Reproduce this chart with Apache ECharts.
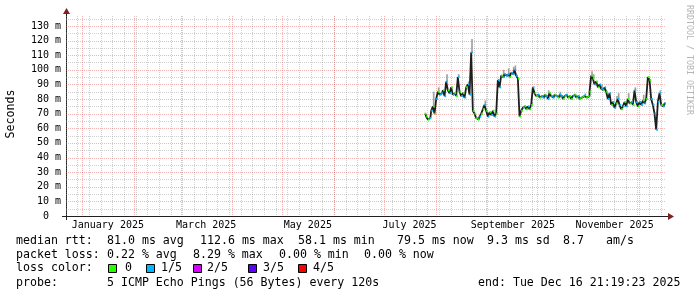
<!DOCTYPE html>
<html><head><meta charset="utf-8">
<script src="https://cdn.jsdelivr.net/npm/echarts@6/dist/echarts.min.js"></script>
<style>html,body{margin:0;padding:0;background:#fff}#c{width:697px;height:297px}</style>
</head><body><div id="c"></div>
<script>
// ---- data ----
const startTime = '2024-12-21T21:19:23Z';
const endTime = '2025-12-16T21:19:23Z';
const firstDay = '2025-07-25';           // first daily sample
// median RTT per day (ms)
const medianMs = [
  70,68,66,67,72,75,70,80,85,83,
  84,86,82,92,86,84,88,83,84,82,
  95,85,82,84,81,88,90,83,112,72,
  70,67,66,68,70,73,76,72,68,71,
  69,72,68,70,93,88,96,95,97,96,
  97,95,98,97,100,96,94,68,72,74,
  75,73,75,73,76,88,84,82,83,81,
  82,81,83,82,80,84,82,81,83,82,
  81,83,82,80,82,83,81,82,80,82,
  83,81,82,80,81,82,83,81,82,85,
  96,94,90,92,88,90,87,86,88,85,
  80,84,76,78,74,77,80,76,73,75,
  78,75,80,77,78,76,86,78,75,78,
  76,79,77,80,95,93,80,76,70,59,
  78,84,76,75,77
];
// loss level per day (0 = 0/5, 1 = 1/5 ...)
const lossLevel = [
  0,0,0,1,1,0,0,1,0,1,
  1,0,1,1,0,1,0,1,0,0,
  1,0,1,0,1,0,1,1,1,0,
  0,0,0,1,0,0,1,0,1,0,
  1,0,1,0,1,1,0,1,1,1,
  1,0,1,1,1,1,0,0,0,1,
  0,0,1,0,0,1,0,0,1,0,
  1,1,0,1,1,0,1,1,0,1,
  0,1,1,0,0,1,0,0,0,1,
  0,0,1,0,0,0,1,0,0,0,
  0,0,1,0,0,1,1,0,1,0,
  1,1,0,1,1,0,1,1,0,1,
  0,1,0,0,1,0,1,1,0,1,
  1,0,1,0,0,0,1,1,1,1,
  1,1,0,1,1
];
// outer smoke top (ms), null where hidden behind the median
const smokeMaxMs = [
  null,null,null,null,null,85,null,null,88,null,
  null,null,null,97,null,null,null,null,null,null,
  97,null,null,null,null,null,92,null,121,null,
  null,null,null,null,null,null,79,null,null,null,
  null,null,null,null,null,null,null,100,null,null,
  101,null,null,102,103,null,null,null,null,null,
  null,null,null,null,78,null,null,null,null,null,
  null,null,null,null,86,null,null,null,null,null,
  null,85,null,null,null,null,null,null,null,null,
  null,null,null,null,null,null,null,null,null,null,
  99,97,null,null,null,null,90,null,null,null,
  null,null,null,null,null,82,84,null,null,null,
  null,null,84,null,null,null,88,null,null,null,
  null,83,null,null,null,null,null,null,null,null,
  null,86,null,null,null
];
const yMajorTicks = [10,20,30,40,50,60,70,80,90,100,110,120,130];
const yMinorTicks = [5,15,25,35,45,55,65,75,85,95,105,115,125,135];
const monthStarts = ['2025-01-01','2025-02-01','2025-03-01','2025-04-01','2025-05-01','2025-06-01',
                     '2025-07-01','2025-08-01','2025-09-01','2025-10-01','2025-11-01','2025-12-01'];
const monthLabels = ['January 2025','March 2025','May 2025','July 2025','September 2025','November 2025'];
const monthLabelDates = ['2025-01-16','2025-03-16','2025-05-16','2025-07-16','2025-09-16','2025-11-16'];
const firstWeekStart = '2024-12-22';
const lossColors = ['#26ff00','#00b8ff','#d800ff','#5e00ff','#ff0000'];
const lossNames = ['0','1/5','2/5','3/5','4/5'];

// ---- build ----
const DAY = 86400000;
const tMin = Date.parse(startTime), tMax = Date.parse(endTime);
const t0 = Date.parse(firstDay + 'T12:00:00Z');
const dayT = medianMs.map((_, i) => t0 + i * DAY);
const toT = s => Date.parse(s + 'T00:00:00Z');

const weekStarts = [];
for (let t = toT(firstWeekStart); t < tMax; t += 7 * DAY) weekStarts.push(t);

const gridData = [];
yMinorTicks.forEach(v => gridData.push([tMin, v, 1]));
weekStarts.forEach(t => gridData.push([t, 0, 3]));
yMajorTicks.forEach(v => gridData.push([tMin, v, 0]));
monthStarts.forEach(s => gridData.push([toT(s), 0, 2]));

const MAJOR = 'rgba(222,79,79,0.42)', MINOR = 'rgba(143,143,143,0.42)';
const MONO = '"DejaVu Sans Mono", monospace';

const smokeData = [];
smokeMaxMs.forEach((v, i) => { if (v != null) smokeData.push([dayT[i], medianMs[i], v]); });
const medData = medianMs.map((v, i) => [dayT[i], v, lossLevel[i]]);
const lineData = medianMs.map((v, i) => [dayT[i], v]);
const labelData = monthLabelDates.map((s, i) => [toT(s), 0, i]);

const chart = echarts.init(document.getElementById('c'), null, {renderer: 'canvas'});

const graphics = [];
function txt(x, y, s, opt) {
  graphics.push(Object.assign({type: 'text', x: x, y: y, silent: true,
    style: Object.assign({text: s, font: '11.6px ' + MONO, fill: '#000', align: 'left', verticalAlign: 'middle'}, (opt && opt.style) || {})},
    opt && opt.rotation != null ? {rotation: opt.rotation} : {}));
}
// axes + arrows
graphics.push({type: 'line', silent: true, shape: {x1: 62, y1: 216.5, x2: 670, y2: 216.5}, style: {stroke: 'rgb(31,31,31)', lineWidth: 1}});
graphics.push({type: 'line', silent: true, shape: {x1: 66.5, y1: 220, x2: 66.5, y2: 12}, style: {stroke: 'rgb(31,31,31)', lineWidth: 1}});
graphics.push({type: 'polygon', silent: true, shape: {points: [[668, 213], [668, 220], [674, 216.5]]}, style: {fill: 'rgb(128,31,31)'}});
graphics.push({type: 'polygon', silent: true, shape: {points: [[63, 14], [70, 14], [66.5, 8]]}, style: {fill: 'rgb(128,31,31)'}});
// titles
txt(11, 114, 'Seconds', {rotation: Math.PI / 2, style: {align: 'center'}});
txt(689, 60, 'RRDTOOL / TOBI OETIKER', {rotation: -Math.PI / 2, style: {align: 'center', font: '8.3px ' + MONO, fill: '#b4b4b4'}});
// legend rows
txt(16, 241, 'median rtt:');
txt(107, 241, '81.0 ms avg'); txt(200, 241, '112.6 ms max'); txt(298, 241, '58.1 ms min');
txt(397, 241, '79.5 ms now'); txt(487, 241, '9.3 ms sd'); txt(563, 241, '8.7'); txt(606, 241, 'am/s');
txt(16, 255, 'packet loss:');
txt(107, 255, '0.22 % avg'); txt(193, 255, '8.29 % max'); txt(279, 255, '0.00 % min'); txt(364, 255, '0.00 % now');
txt(16, 268, 'loss color:');
const boxX = [108, 146, 193, 248, 298], labX = [125, 161, 207, 263, 313];
lossNames.forEach((n, i) => {
  graphics.push({type: 'rect', silent: true, shape: {x: boxX[i] + 0.5, y: 264.5, width: 8, height: 8}, style: {fill: lossColors[i], stroke: '#000', lineWidth: 1}});
  txt(labX[i], 268, n);
});
txt(16, 283, 'probe:');
txt(107, 283, '5 ICMP Echo Pings (56 Bytes) every 120s');
txt(478, 283, 'end: Tue Dec 16 21:19:23 2025');

chart.setOption({
  animation: false,
  backgroundColor: '#fff',
  grid: {left: 66, top: 16, width: 600, height: 200},
  xAxis: {type: 'time', min: tMin, max: tMax, axisLine: {show: false}, axisTick: {show: false},
          axisLabel: {show: false}, splitLine: {show: false}},
  yAxis: {type: 'value', min: 0, max: 136.8, interval: 10,
          axisLine: {show: false}, axisTick: {show: false}, splitLine: {show: false},
          axisLabel: {margin: 5, fontFamily: 'DejaVu Sans Mono', fontSize: 10, color: '#000',
                      formatter: v => (v % 10 === 0 && v <= 130) ? (v === 0 ? '0  ' : v + ' m') : ''}},
  series: [
    {type: 'custom', z: 1, silent: true, clip: false, data: gridData, encode: {x: 0, y: 1},
     renderItem: (params, api) => {
       const kind = api.value(2), cs = params.coordSys;
       const p = api.coord([api.value(0), api.value(1)]);
       let shape;
       if (kind < 2) { const y = Math.round(p[1]) + 0.5; shape = {x1: cs.x, y1: y, x2: cs.x + cs.width, y2: y}; }
       else { const x = Math.floor(p[0]) + 0.5; shape = {x1: x, y1: cs.y, x2: x, y2: cs.y + cs.height}; }
       return {type: 'line', shape: shape, style: {stroke: kind % 2 === 0 ? MAJOR : MINOR, lineWidth: 1, lineDash: [1, 1]}};
     }},
    {type: 'custom', z: 2, silent: true, clip: false, data: labelData, encode: {x: 0, y: 1},
     renderItem: (params, api) => {
       const p = api.coord([api.value(0), 0]);
       return {type: 'text', x: p[0], y: p[1] + 9,
               style: {text: monthLabels[api.value(2)], font: '10px ' + MONO, fill: '#000', align: 'center', verticalAlign: 'middle'}};
     }},
    {type: 'custom', z: 3, silent: true, clip: true, data: smokeData, encode: {x: 0, y: 2},
     renderItem: (params, api) => {
       const a = api.coord([api.value(0) - DAY / 2, api.value(2)]);
       const b = api.coord([api.value(0) + DAY / 2, api.value(1)]);
       return {type: 'rect', shape: {x: a[0], y: a[1], width: b[0] - a[0], height: b[1] - a[1]}, style: {fill: '#a0a0a0'}};
     }},
    {type: 'line', z: 4, silent: true, data: lineData, step: 'middle', showSymbol: false,
     lineStyle: {color: '#1e1e1e', width: 1.8}},
    {type: 'custom', z: 5, silent: true, clip: true, data: medData, encode: {x: 0, y: 1},
     renderItem: (params, api) => {
       const a = api.coord([api.value(0) - DAY / 2, api.value(1)]);
       const b = api.coord([api.value(0) + DAY / 2, api.value(1)]);
       return {type: 'rect', shape: {x: a[0], y: a[1] - 1, width: b[0] - a[0], height: 2}, style: {fill: lossColors[api.value(2)]}};
     }}
  ],
  graphic: graphics
});
</script></body></html>
